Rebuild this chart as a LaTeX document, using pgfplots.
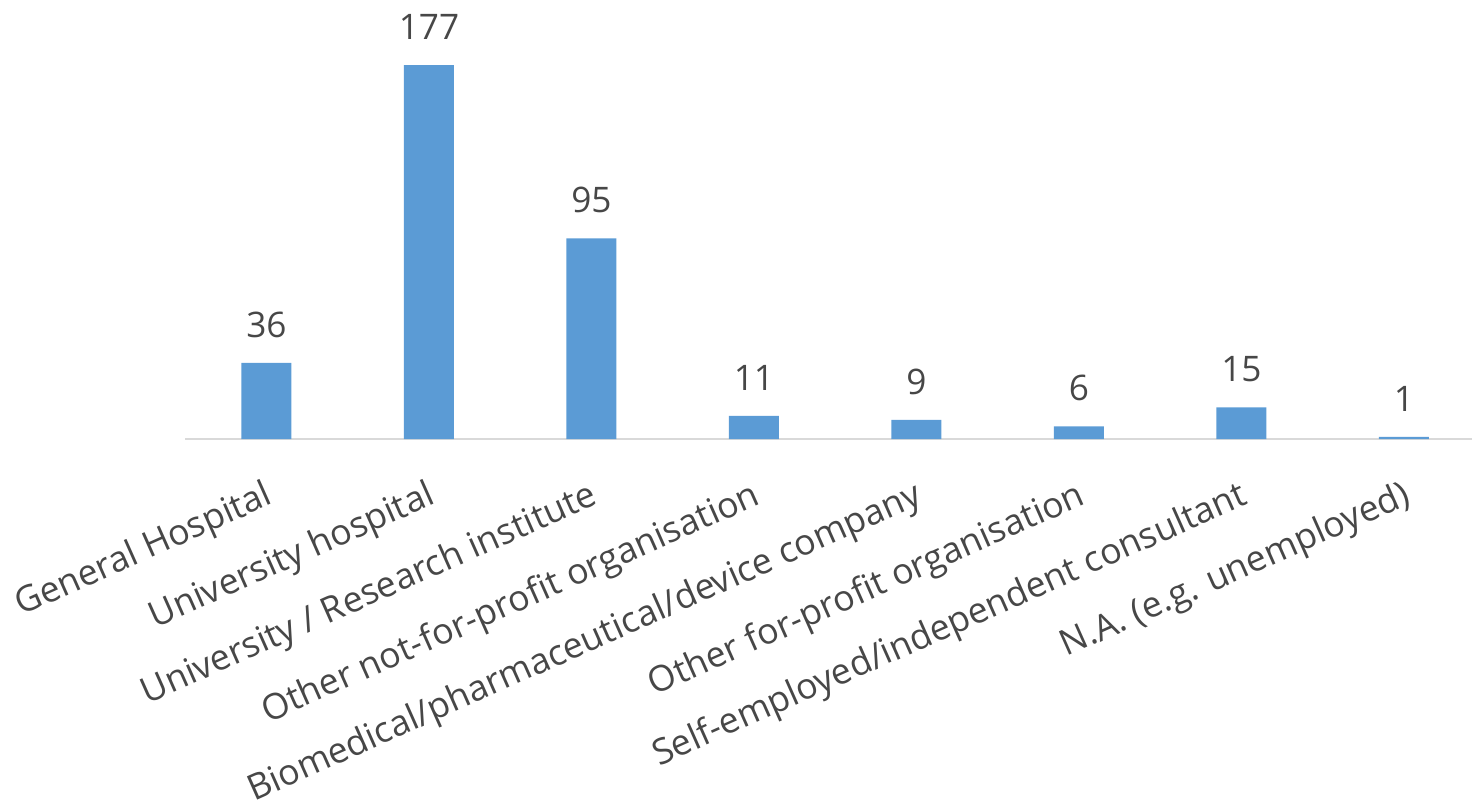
\documentclass[border=0pt]{standalone}
\usepackage{pgfplots}
\pgfplotsset{compat=1.18}
\usepackage{fontspec}
\setmainfont{Open Sans}
\definecolor{barblue}{HTML}{5B9BD5}
\definecolor{txt}{HTML}{474747}
\definecolor{axisgray}{HTML}{D9D9D9}
\begin{document}
\begin{tikzpicture}
\begin{axis}[
  width=650pt, height=219.5pt, scale only axis,
  xmin=-0.5, xmax=7.5, ymin=0, ymax=207.8,
  axis x line=bottom, axis y line=none,
  axis line style={-},
  x axis line style={draw=axisgray, line width=1pt},
  /pgf/number format/assume math mode=true,
  xtick={0,...,7},
  xticklabels={General Hospital, University hospital, University / Research institute, Other not-for-profit organisation, Biomedical/pharmaceutical/device company, Other for-profit organisation, Self-employed/independent consultant, N.A. (e.g. unemployed)},
  major tick length=0pt,
  xticklabel style={xshift=-1.5pt, yshift=-19.5pt, rotate=24, anchor=north east, inner sep=0pt, font=\fontsize{17.8}{21}\selectfont, text=txt},
  nodes near coords,
  nodes near coords style={font=\fontsize{17.6}{21}\selectfont, text=txt, anchor=south, inner sep=0pt, yshift=12.5pt},
  clip=false,
]
\addplot[ybar, fill=barblue, draw=none, bar width=25pt] coordinates {(0,36) (1,177) (2,95) (3,11) (4,9) (5,6) (6,15) (7,1)};
\end{axis}
\pgfresetboundingbox
\path[use as bounding box] (-92.6pt,-184.5pt) rectangle (643.4pt,219.5pt);
\end{tikzpicture}
\end{document}
